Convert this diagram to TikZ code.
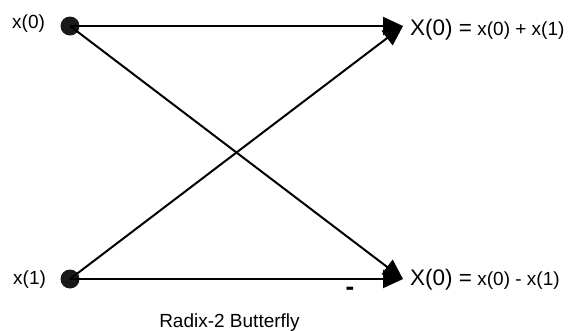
\documentclass[tikz,border=0pt]{standalone}
\usepackage{fontspec}
\setmainfont{Liberation Sans}
\usetikzlibrary{arrows.meta}
\begin{document}
\begin{tikzpicture}[x=1pt,y=-1pt,
  wire/.style={line width=2pt,-{Triangle[length=20pt,width=18pt]},shorten >=0pt},
  dot/.style={circle,fill=black!90,inner sep=0pt,minimum size=19pt},
  lbl/.style={inner sep=0pt,font=\fontsize{19}{21}\selectfont}]
\useasboundingbox (0,0) rectangle (568,330);
\node[dot] (a) at (70,26) {};
\node[dot] (b) at (70,279) {};
\coordinate (ta) at (403,26);
\coordinate (tb) at (403,279);
\draw[wire] (a.center) -- (ta);
\draw[wire] (a.center) -- (tb);
\draw[wire] (b.center) -- (tb);
\draw[wire] (b.center) -- (ta);
\node[lbl,anchor=base west] (la) at (12,28) {x(0)};
\node[lbl,anchor=base west] (lb) at (13,284) {x(1)};
\node[lbl,anchor=base west] (ra) at (410,35) {{\fontsize{22.5}{24}\selectfont X(0) =} x(0) + x(1)};
\node[lbl,anchor=base west] (rb) at (410,285) {{\fontsize{22.5}{24}\selectfont X(0) =} x(0) - x(1)};
\node[inner sep=0pt,anchor=center,font=\fontsize{26}{28}\selectfont\bfseries] (m) at (350,291) {-};
\node[inner sep=0pt,anchor=base,font=\fontsize{19}{21}\selectfont] (cap) at (229.5,327) {Radix-2 Butterfly};
\end{tikzpicture}
\end{document}
